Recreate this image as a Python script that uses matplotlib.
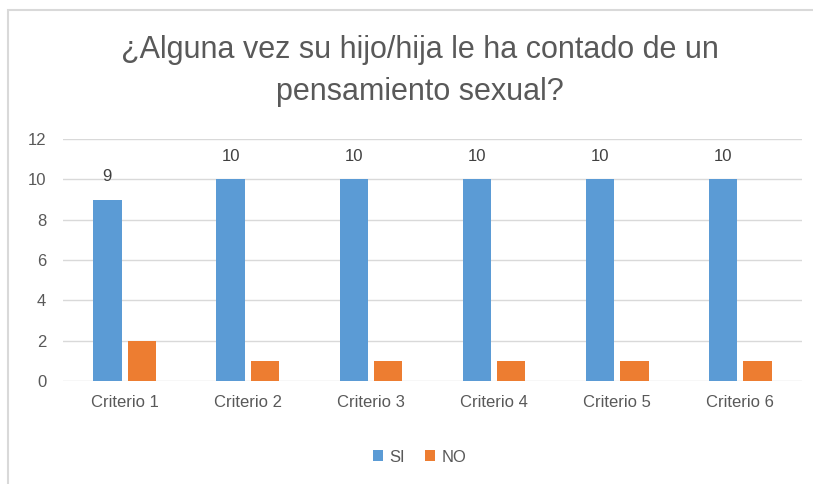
import numpy as np
import matplotlib.pyplot as plt
from matplotlib.patches import Rectangle

# Survey answers per criterion
criterios = ["Criterio 1", "Criterio 2", "Criterio 3", "Criterio 4", "Criterio 5", "Criterio 6"]
si = [9, 10, 10, 10, 10, 10]
no = [2, 1, 1, 1, 1, 1]
titulo = "¿Alguna vez su hijo/hija le ha contado de un\npensamiento sexual?"

azul = "#5B9BD5"
naranja = "#ED7D31"
gris = "#595959"

plt.rcParams['font.family'] = ['Liberation Sans', 'DejaVu Sans']

W, H = 813, 484
fig = plt.figure(figsize=(W / 100, H / 100), dpi=100)

# chart frame (runs past the right and bottom edges)
fig.patches.append(Rectangle((8 / W, -0.2), 1.2, 1.2 - 10 / H, transform=fig.transFigure,
                             fill=False, edgecolor="#D9D9D9", linewidth=1.5))

ax = fig.add_axes([63 / W, 1 - 381 / H, (802 - 63) / W, (381 - 139) / H])

x = np.arange(len(criterios))
ancho = 0.23
b1 = ax.bar(x - 0.14, si, ancho, color=azul, label="SI")
b2 = ax.bar(x + 0.14, no, ancho, color=naranja, label="NO")

for rect, v in zip(b1, si):
    ax.text(rect.get_x() + rect.get_width() / 2, v + 0.75, str(v),
            ha="center", va="bottom", fontsize=12, color="#404040")

ax.set_xlim(-0.5, len(criterios) - 0.5)
ax.set_ylim(0, 12)
ax.set_yticks(range(0, 13, 2))
ax.set_xticks(x)
ax.set_xticklabels(criterios)
ax.tick_params(axis="both", length=0, labelsize=12, colors=gris)
ax.tick_params(axis="y", pad=12)
ax.tick_params(axis="x", pad=10)
ax.grid(axis="y", color="#D9D9D9", linewidth=1)
ax.set_axisbelow(True)
for s in ax.spines.values():
    s.set_visible(False)

fig.text(420 / W, 1 - 71 / H, titulo, ha="center", va="center",
         fontsize=22, color=gris, linespacing=1.55)

fig.legend(handles=[b1, b2], loc="center", bbox_to_anchor=(420 / W, 1 - 457 / H),
           ncol=2, frameon=False, fontsize=12, handlelength=0.6, handleheight=0.6,
           handletextpad=0.4, columnspacing=1.2, labelcolor=gris)

fig.savefig("out.png", dpi=100)
